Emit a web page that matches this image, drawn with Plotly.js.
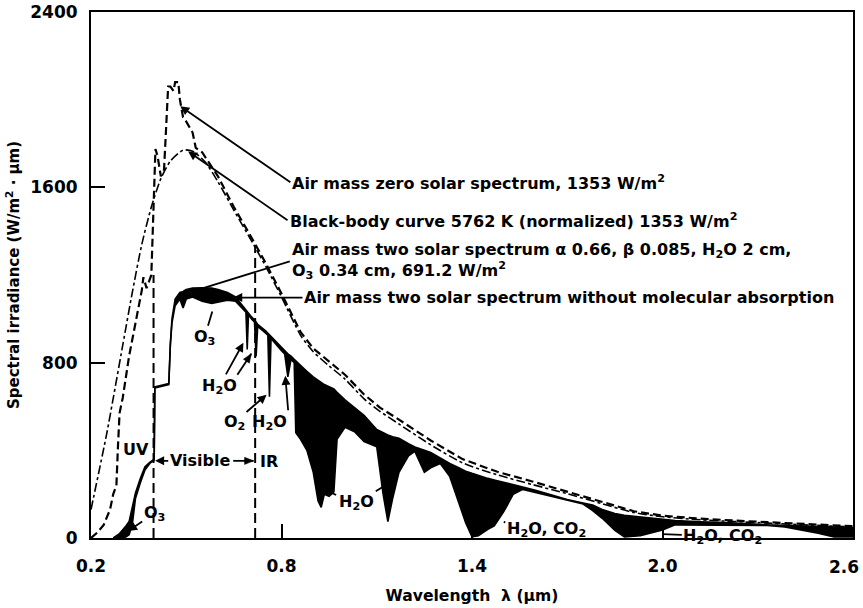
<!DOCTYPE html>
<html>
<head>
<meta charset="utf-8">
<script src="https://cdn.plot.ly/plotly-3.0.1.min.js"></script>
<style>html,body{margin:0;padding:0;background:#fff;}#chart{width:863px;height:608px;}</style>
</head>
<body>
<div id="chart"></div>
<script>
// ---- Data ----
// Air mass zero solar spectrum (dashed)
const lamAM0 = [0.20,0.22,0.24,0.26,0.27,0.28,0.285,0.29,0.30,0.32,0.34,0.36,0.365,0.375,0.39,0.398,0.403,0.41,0.42,0.43,0.443,0.45,0.46,0.465,0.475,0.48,0.49,0.50,0.52,0.53,0.55,0.60,0.65,0.70,0.75,0.80,0.86,0.90,0.95,1.00,1.06,1.11,1.17,1.27,1.37,1.48,1.59,1.70,1.81,1.91,2.00,2.12,2.33,2.60];
const am0 = [0,25,60,130,200,240,420,570,640,830,980,1130,1190,1140,1200,1500,1775,1740,1650,1680,2060,2060,2040,2080,2080,2000,1920,1900,1850,1780,1760,1650,1510,1385,1255,1115,940,865,805,745,655,595,540,445,360,302,258,212,165,122,102,88,72,54];

// Black-body curve 5762 K normalized (dash-dot)
const lamBB = [0.20,0.25,0.30,0.33,0.36,0.39,0.42,0.45,0.49,0.52,0.56,0.60,0.65,0.70,0.75,0.80,0.86,0.90,0.95,1.00,1.06,1.11,1.17,1.27,1.37,1.48,1.59,1.70,1.81,1.91,2.00,2.12,2.33,2.60];
const bb = [130,480,880,1120,1340,1510,1640,1720,1770,1765,1715,1625,1495,1370,1240,1100,925,850,785,725,635,578,520,425,343,288,244,202,156,116,97,83,68,50];

// Air mass two: wavelength grid, without molecular absorption (upper), actual (lower)
const lamAM2 = [0.27,0.29,0.31,0.32,0.33,0.34,0.355,0.37,0.385,0.399,0.401,0.43,0.445,0.45,0.455,0.465,0.48,0.49,0.50,0.52,0.55,0.58,0.60,0.63,0.655,0.68,0.688,0.692,0.696,0.705,0.715,0.72,0.725,0.75,0.757,0.762,0.767,0.80,0.81,0.82,0.83,0.84,0.845,0.86,0.88,0.90,0.915,0.925,0.935,0.95,0.965,0.975,1.00,1.03,1.06,1.10,1.12,1.135,1.15,1.17,1.20,1.22,1.25,1.27,1.30,1.33,1.36,1.38,1.40,1.42,1.45,1.47,1.50,1.53,1.56,1.60,1.65,1.70,1.75,1.78,1.81,1.85,1.88,1.93,2.00,2.04,2.12,2.20,2.33,2.385,2.44,2.49,2.54,2.60];
const am2NoMol = [0,20,55,75,140,205,270,325,345,360,690,700,705,890,1000,1090,1120,1125,1134,1140,1142,1140,1134,1120,1100,1055,1040,1035,1030,1010,995,985,975,945,935,928,920,870,855,840,830,815,808,785,760,735,720,710,700,690,680,665,630,595,560,495,480,470,462,455,430,415,400,390,365,340,320,305,295,285,272,265,255,242,232,218,198,176,160,150,130,112,104,96,85,80,74,70,60,57,55,53,51,48];
const am2 = [0,0,5,15,60,180,250,310,340,355,685,695,700,880,980,1060,1090,1050,1090,1100,1080,1070,1075,1085,1080,1040,1030,860,1020,1000,985,830,965,935,925,645,910,855,840,735,815,800,480,450,400,300,170,140,200,190,210,450,505,485,440,416,200,75,180,300,375,395,300,320,340,280,160,70,5,10,40,55,120,200,222,208,190,170,155,125,90,35,5,10,37,60,60,58,57,50,37,22,5,5];

// UV / visible / IR boundary markers
const boundaryLam = [0.397, 0.717];
const boundaryTop = [1200, 1330];

// Axis ticks (the last label sits against the frame edge, drawn right-aligned)
const xTickVals = [0.2, 0.8, 1.4, 2.0, 2.6];
const xTickText = ['0.2', '0.8', '1.4', '2.0', ''];
const xLastTickText = '2.6';
const yTickVals = [0, 800, 1600, 2400];
const yTickText = ['0', '800', '1600', '2400'];

// ---- Traces ----
const traces = [
  {x: lamAM2, y: am2NoMol, mode: 'lines', line: {color: '#000', width: 1.6}, hoverinfo: 'skip'},
  {x: lamAM2, y: am2, mode: 'lines', fill: 'tonexty', fillcolor: '#000', line: {color: '#000', width: 1.6}, hoverinfo: 'skip'},
  {x: lamBB, y: bb, mode: 'lines', line: {color: '#000', width: 1.6, dash: 'dashdot', shape: 'spline', smoothing: 0.6}, hoverinfo: 'skip'},
  {x: lamAM0, y: am0, mode: 'lines', line: {color: '#000', width: 2.2, dash: '8px,4px'}, hoverinfo: 'skip'},
];
boundaryLam.forEach((lx, i) => {
  traces.push({x: [lx, lx], y: [0, boundaryTop[i]], mode: 'lines', line: {color: '#000', width: 2, dash: '10px,5px'}, hoverinfo: 'skip'});
});

// ---- Annotations ----
const FONT = 'DejaVu Sans';
const BIG = 16, SMALL = 16;
function lbl(x, y, text, size, xa, ya) {
  return {x: x, y: y, xref: 'x', yref: 'y', text: text, showarrow: false,
          xanchor: xa || 'center', yanchor: ya || 'middle',
          font: {family: FONT, size: size || SMALL, color: '#000', weight: 'bold'}};
}
// label whose text sits at (tx, ty) with a leader/arrow running to (hx, hy)
function lblArrow(tx, ty, text, hx, hy, head, size, xa, ya) {
  return {x: hx, y: hy, ax: tx, ay: ty, xref: 'x', yref: 'y', axref: 'x', ayref: 'y',
          text: text, showarrow: true, arrowhead: head, arrowsize: 1, arrowwidth: 1.8,
          arrowcolor: '#000', standoff: 0, startstandoff: 0, align: 'left',
          xanchor: xa || 'center', yanchor: ya || 'middle',
          font: {family: FONT, size: size || SMALL, color: '#000', weight: 'bold'}};
}
const annotations = [
  lblArrow(0.828, 1623, 'Air mass zero solar spectrum, 1353 W/m<sup>2</sup>', 0.481, 1970, 2, BIG, 'left'),
  lblArrow(0.819, 1450, 'Black-body curve 5762 K (normalized) 1353 W/m<sup>2</sup>', 0.506, 1764, 2, BIG, 'left'),
  lblArrow(0.826, 1262, 'Air mass two solar spectrum \u03b1 0.66, \u03b2 0.085, H<sub>2</sub>O 2 cm,<br>O<sub>3</sub> 0.34 cm, 691.2 W/m<sup>2</sup>', 0.528, 1129, 0, BIG, 'left'),
  lblArrow(0.866, 1097, 'Air mass two solar spectrum without molecular absorption', 0.648, 1097, 2, BIG, 'left'),

  lblArrow(0.557, 914, 'O<sub>3</sub>', 0.582, 1033, 0),
  lblArrow(0.604, 692, 'H<sub>2</sub>O', 0.680, 891, 2),
  lblArrow(0.652, 528, 'O<sub>2</sub>', 0.753, 654, 2),
  lblArrow(0.824, 528, 'H<sub>2</sub>O', 0.812, 740, 2, SMALL, 'right'),

  lbl(0.342, 402, 'UV'),
  lblArrow(0.544, 352, 'Visible', 0.402, 352, 2),
  lbl(0.762, 347, 'IR'),
  lblArrow(0.399, 112, 'O<sub>3</sub>', 0.317, 32, 2),

  lblArrow(1.037, 160, 'H<sub>2</sub>O', 1.125, 238, 0),
  lblArrow(1.634, 41, 'H<sub>2</sub>O, CO<sub>2</sub>', 1.500, 73, 0),
  lblArrow(2.19, 5, 'H<sub>2</sub>O, CO<sub>2</sub>', 2.0, 18, 0),

  // last x tick label, kept inside the page edge
  {x: xTickVals[xTickVals.length - 1], y: 0, xref: 'x', yref: 'paper', text: xLastTickText,
   showarrow: false, xanchor: 'right', yanchor: 'top', xshift: 8, yshift: -17,
   font: {family: FONT, size: 17, color: '#000', weight: 'bold'}},
];

// extra leader lines / arrows without their own label (drawn as shapes)
const KX = 762 / 2.4, KY = 526 / 2400;
function leader(x0, y0, x1, y1, withHead) {
  const out = [{type: 'line', xref: 'x', yref: 'y', x0: x0, y0: y0, x1: x1, y1: y1,
                line: {color: '#000', width: 1.8}}];
  if (withHead) {
    const dx = (x1 - x0) * KX, dy = (y1 - y0) * KY;
    const L = Math.hypot(dx, dy), ux = dx / L, uy = dy / L;
    const len = 9, w = 3.6;
    const bx = -ux * len, by = -uy * len;
    const p1 = [bx - uy * w, by + ux * w], p2 = [bx + uy * w, by - ux * w];
    out.push({type: 'path', xref: 'x', yref: 'y', xsizemode: 'pixel', ysizemode: 'pixel',
              xanchor: x1, yanchor: y1,
              path: 'M0,0 L' + p1[0].toFixed(2) + ',' + p1[1].toFixed(2) + ' L' + p2[0].toFixed(2) + ',' + p2[1].toFixed(2) + ' Z',
              fillcolor: '#000', line: {color: '#000', width: 0.5}});
  }
  return out;
}
const shapes = [].concat(
  leader(0.661, 745, 0.705, 841, true),
  leader(0.648, 352, 0.712, 352, true),
  leader(0.972, 196, 0.958, 206, false)
);

const layout = {
  width: 863, height: 608,
  margin: {l: 91, r: 10, t: 12, b: 70, pad: 0},
  paper_bgcolor: '#fff', plot_bgcolor: '#fff',
  showlegend: false,
  font: {family: FONT, color: '#000', weight: 'bold'},
  xaxis: {
    range: [0.2, 2.6], tickvals: xTickVals, ticktext: xTickText,
    ticks: 'inside', ticklen: 14, tickwidth: 2, tickcolor: '#000',
    showline: true, linewidth: 2, linecolor: '#000', mirror: true,
    showgrid: false, zeroline: false, ticklabelstandoff: 12,
    tickfont: {family: FONT, size: 17, color: '#000', weight: 'bold'},
    title: {text: 'Wavelength  \u03bb (\u03bcm)', standoff: 15,
            font: {family: FONT, size: 15.6, color: '#000', weight: 'bold'}}
  },
  yaxis: {
    range: [0, 2400], tickvals: yTickVals, ticktext: yTickText,
    ticks: 'inside', ticklen: 14, tickwidth: 2, tickcolor: '#000',
    showline: true, linewidth: 2, linecolor: '#000', mirror: true,
    showgrid: false, zeroline: false, ticklabelstandoff: 8,
    tickfont: {family: FONT, size: 17, color: '#000', weight: 'bold'},
    title: {text: 'Spectral irradiance (W/m<sup>2</sup> \u00b7 \u03bcm)', standoff: 7,
            font: {family: FONT, size: 15, color: '#000', weight: 'bold'}}
  },
  annotations: annotations,
  shapes: shapes
};

Plotly.newPlot('chart', traces, layout, {displayModeBar: false, staticPlot: true});
</script>
</body>
</html>
